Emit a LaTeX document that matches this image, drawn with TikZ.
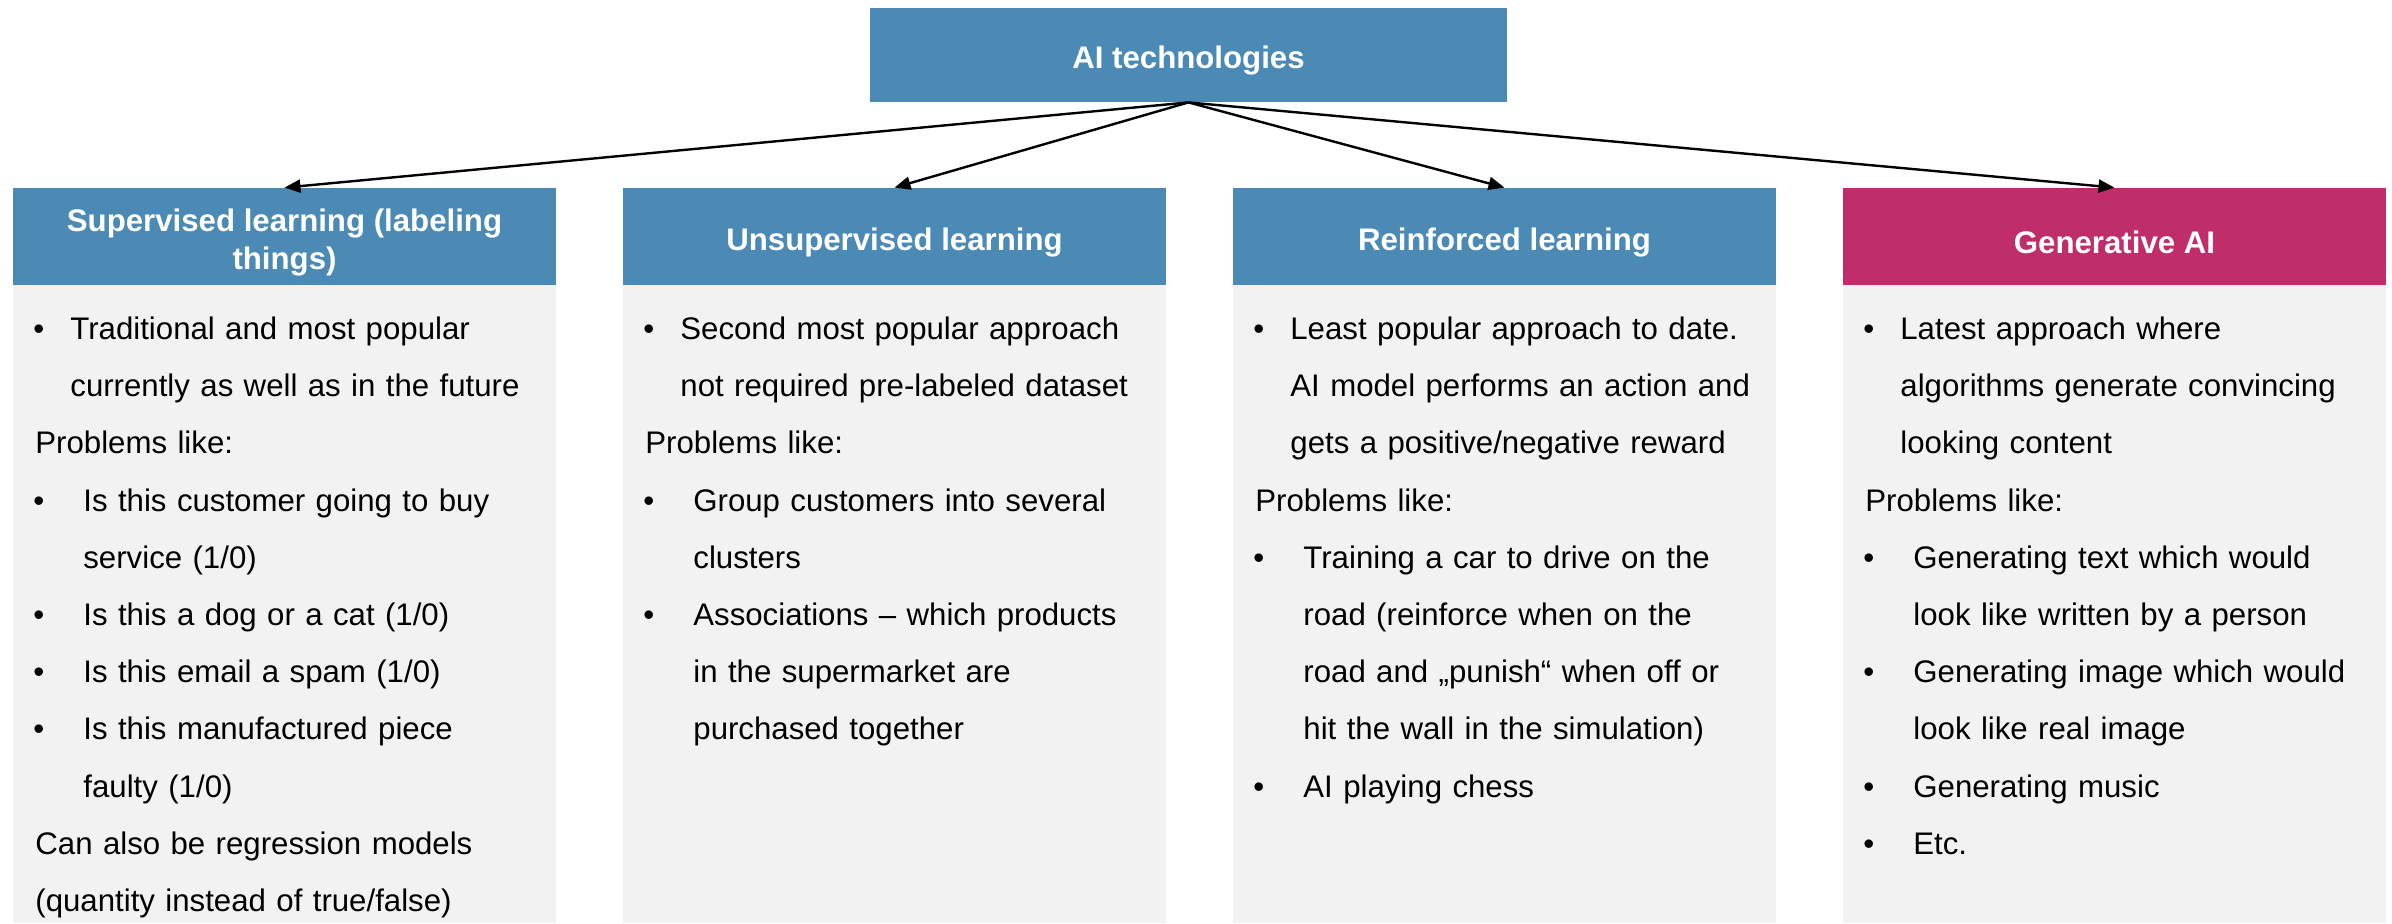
\documentclass[tikz,border=0pt]{standalone}
\usepackage{fontspec}
\setmainfont{Liberation Sans}
\usetikzlibrary{arrows.meta}
\definecolor{hblue}{RGB}{74,138,180}
\definecolor{hpink}{RGB}{191,45,107}
\definecolor{bgray}{RGB}{242,242,242}
\newcommand{\Bu}[1]{\strut\hspace*{10pt}\makebox[18.5pt][l]{\textbullet}#1}
\newcommand{\Co}[1]{\hspace*{28.5pt}#1}
\newcommand{\Sb}[1]{\hspace*{10pt}\makebox[25pt][l]{\textbullet}#1}
\newcommand{\Sc}[1]{\hspace*{35pt}#1}
\newcommand{\Pl}[1]{\hspace*{11pt}#1}
\tikzset{
  hdr/.style={fill=hblue, minimum width=271.5pt, minimum height=48.5pt, inner sep=0pt},
  hlabel/.style={inner sep=0pt, text=white, font=\fontsize{15.6pt}{19pt}\selectfont\bfseries, align=center, yshift=-2.8pt},
  gbox/.style={fill=bgray, minimum width=271.5pt, minimum height=319pt, inner sep=0pt, anchor=north west},
  bodytxt/.style={anchor=north west, inner sep=0pt, text width=271pt, align=left,
    font=\fontsize{15.6pt}{28.6pt}\selectfont},
  arr/.style={line width=1.2pt, -{Triangle[length=8pt,width=6.5pt]}}
}
\begin{document}
\begin{tikzpicture}[x=0.5pt,y=-0.5pt]
\useasboundingbox (0,0) rectangle (2392,923);
\node[hdr, minimum width=318.5pt, minimum height=47pt] (top) at (1188.5,55) {};
\node[hlabel] (topl) at (top.center) {AI technologies};

\node[hdr] (h1) at (284.5,236.5) {};
\node[hdr] (h2) at (894.5,236.5) {};
\node[hdr] (h3) at (1504.5,236.5) {};
\node[hdr, fill=hpink] (h4) at (2114.5,236.5) {};
\node[hlabel] (h1l) at (h1.center) {Supervised learning (labeling\\things)};
\node[hlabel] (h2l) at (h2.center) {Unsupervised learning};
\node[hlabel] (h3l) at (h3.center) {Reinforced learning};
\node[hlabel] (h4l) at (h4.center) {Generative AI};

\node[gbox] (g1) at (13,285) {};
\node[gbox] (g2) at (623,285) {};
\node[gbox] (g3) at (1233,285) {};
\node[gbox] (g4) at (1843,285) {};

\node[bodytxt] (t1) at ([yshift=-7pt]g1.north west) {%
\Bu{Traditional and most popular}\\
\Co{currently as well as in the future}\\
\Pl{Problems like:}\\
\Sb{Is this customer going to buy}\\
\Sc{service (1/0)}\\
\Sb{Is this a dog or a cat (1/0)}\\
\Sb{Is this email a spam (1/0)}\\
\Sb{Is this manufactured piece}\\
\Sc{faulty (1/0)}\\
\Pl{Can also be regression models}\\
\Pl{(quantity instead of true/false)}};

\node[bodytxt] (t2) at ([yshift=-7pt]g2.north west) {%
\Bu{Second most popular approach}\\
\Co{not required pre-labeled dataset}\\
\Pl{Problems like:}\\
\Sb{Group customers into several}\\
\Sc{clusters}\\
\Sb{Associations – which products}\\
\Sc{in the supermarket are}\\
\Sc{purchased together}};

\node[bodytxt] (t3) at ([yshift=-7pt]g3.north west) {%
\Bu{Least popular approach to date.}\\
\Co{AI model performs an action and}\\
\Co{gets a positive/negative reward}\\
\Pl{Problems like:}\\
\Sb{Training a car to drive on the}\\
\Sc{road (reinforce when on the}\\
\Sc{road and „punish“ when off or}\\
\Sc{hit the wall in the simulation)}\\
\Sb{AI playing chess}};

\node[bodytxt] (t4) at ([yshift=-7pt]g4.north west) {%
\Bu{Latest approach where}\\
\Co{algorithms generate convincing}\\
\Co{looking content}\\
\Pl{Problems like:}\\
\Sb{Generating text which would}\\
\Sc{look like written by a person}\\
\Sb{Generating image which would}\\
\Sc{look like real image}\\
\Sb{Generating music}\\
\Sb{Etc.}};

\draw[arr] (top.south) -- (h1.north);
\draw[arr] (top.south) -- (h2.north);
\draw[arr] (top.south) -- (h3.north);
\draw[arr] (top.south) -- (h4.north);
\end{tikzpicture}
\end{document}
